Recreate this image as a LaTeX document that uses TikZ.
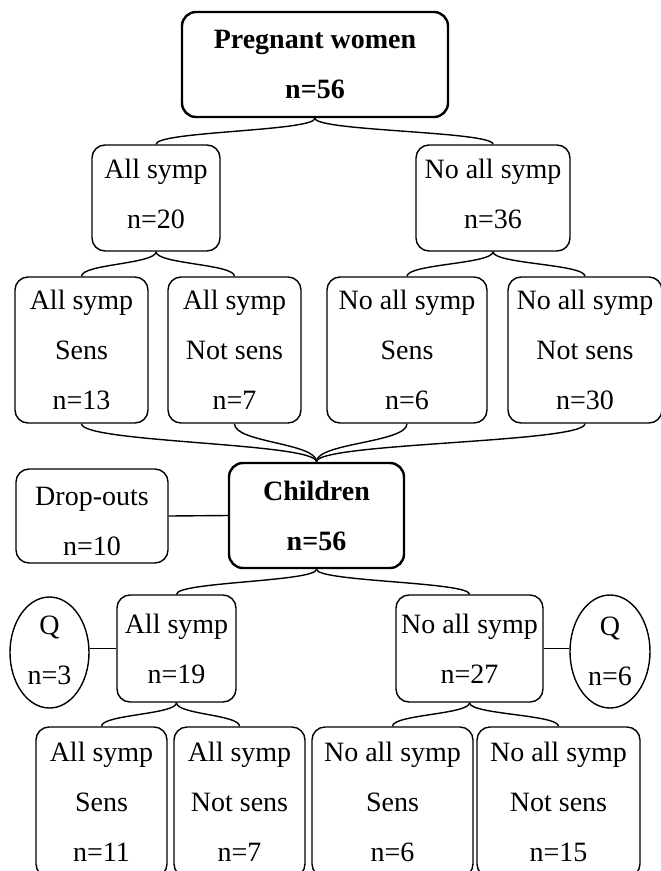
\documentclass[tikz,border=0pt]{standalone}
\usepackage{fontspec}
\setmainfont{Liberation Serif}
\usetikzlibrary{calc,shapes.geometric}
\newcommand\brcon[2]{%
  \coordinate (mid) at ($(#1.south)!0.5!(#2.north)$);
  \draw[conn] (#1.south) .. controls (#1.south |- mid) and (#2.north |- mid) .. (#2.north);}
\newcommand\dpt[1]{\rule[-#1]{0pt}{#1}}
\newcommand\htt[1]{\rule{0pt}{#1}}
\begin{document}
\begin{tikzpicture}[x=1pt,y=-1pt,
  box/.style={draw, line width=1.4pt, rounded corners=13pt, align=center, inner sep=0pt,
    font=\fontsize{28}{50}\selectfont},
  mainbox/.style={box, line width=2.4pt, rounded corners=14pt,
    font=\bfseries\fontsize{28}{50}\selectfont},
  oval/.style={draw, ellipse, line width=1.4pt, align=center, inner sep=0pt,
    font=\fontsize{28}{50}\selectfont},
  conn/.style={line width=1.4pt}]
\useasboundingbox (0,0) rectangle (661,871);
\clip (0,0) rectangle (661,871);
% nodes
\node[mainbox, minimum width=266pt, minimum height=105pt] (pw) at (315,64.5) {Pregnant women\\n=56};
\node[box, minimum width=128pt, minimum height=106pt] (r2L) at (156,198) {All symp\\n=20\dpt{8pt}};
\node[box, minimum width=154pt, minimum height=106pt] (r2R) at (493,198) {No all symp\\n=36\dpt{8pt}};
\node[box, minimum width=133pt, minimum height=146pt] (A) at (81.5,350) {All symp\\Sens\\n=13};
\node[box, minimum width=133pt, minimum height=146pt] (B) at (234.5,350) {All symp\\Not sens\\n=7};
\node[box, minimum width=160pt, minimum height=146pt] (C) at (407,350) {No all symp\\Sens\\n=6};
\node[box, minimum width=154pt, minimum height=146pt] (D) at (585,350) {No all symp\\Not sens\\n=30};
\node[box, minimum width=152pt, minimum height=94pt] (drop) at (92,516) {\htt{28.5pt}Drop-outs\\n=10};
\node[mainbox, minimum width=175pt, minimum height=105pt] (ch) at (316.5,515.5) {Children\\n=56};
\node[oval, minimum width=79pt, minimum height=111pt] (q1) at (49.5,652.5) {Q\\n=3\dpt{5pt}};
\node[box, minimum width=119pt, minimum height=107pt] (n19) at (176.5,648.5) {All symp\\n=19};
\node[box, minimum width=147pt, minimum height=107pt] (n27) at (469.5,648.5) {No all symp\\n=27};
\node[oval, minimum width=80pt, minimum height=113pt] (q2) at (610,651.5) {Q\\n=6};
\node[box, minimum width=131pt, minimum height=150pt] (b1) at (101.5,802) {All symp\\Sens\\n=11};
\node[box, minimum width=131pt, minimum height=150pt] (b2) at (239.5,802) {All symp\\Not sens\\n=7};
\node[box, minimum width=161pt, minimum height=150pt] (b3) at (392.5,802) {No all symp\\Sens\\n=6};
\node[box, minimum width=163pt, minimum height=150pt] (b4) at (558.5,802) {No all symp\\Not sens\\n=15};
% connectors
\brcon{pw}{r2L}
\brcon{pw}{r2R}
\brcon{r2L}{A}
\brcon{r2L}{B}
\brcon{r2R}{C}
\brcon{r2R}{D}
\brcon{A}{ch}
\brcon{B}{ch}
\brcon{C}{ch}
\brcon{D}{ch}
\brcon{ch}{n19}
\brcon{ch}{n27}
\brcon{n19}{b1}
\brcon{n19}{b2}
\brcon{n27}{b3}
\brcon{n27}{b4}
\draw[conn] (drop.east) -- (ch.west);
\draw[conn] (n19.west) -- (n19.west -| q1.east);
\draw[conn] (n27.east) -- (n27.east -| q2.west);
\end{tikzpicture}
\end{document}
